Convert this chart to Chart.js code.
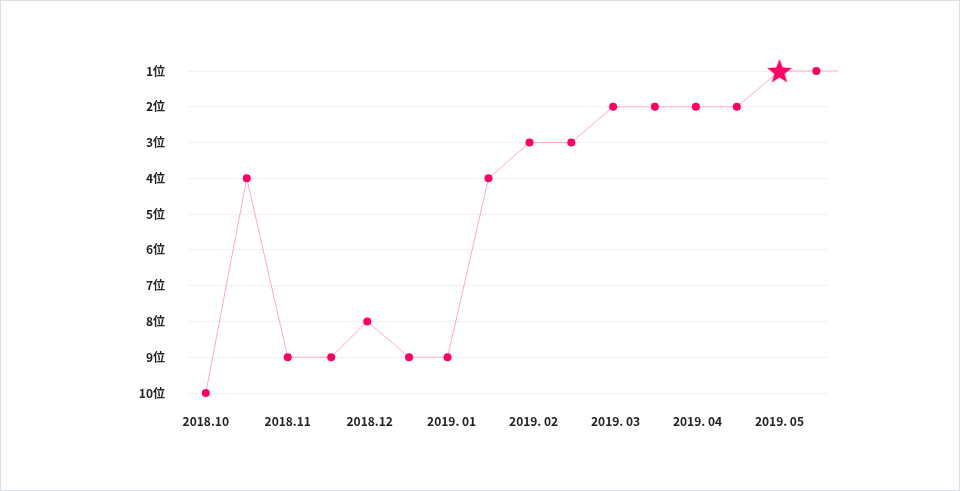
<!DOCTYPE html>
<html>
<head>
<meta charset="utf-8">
<script src="https://cdn.jsdelivr.net/npm/chart.js@4.4.0/dist/chart.umd.min.js"></script>
<style>
  html, body { margin: 0; padding: 0; background: #ffffff; }
  #wrap { position: relative; width: 960px; height: 491px; }
  #frame { position: absolute; left: 0; top: 0; width: 960px; height: 491px; box-sizing: border-box; border: 1px solid #d9dde6; pointer-events: none; }
</style>
</head>
<body>
<div id="wrap">
  <canvas id="c" width="960" height="491"></canvas>
  <div id="frame"></div>
</div>
<script>
// Month tick labels (x position = month index)
const tickLabels = ['2018.10', '2018.11', '2018.12', '2019. 01', '2019. 02', '2019. 03', '2019. 04', '2019. 05'];
const xPositions = [0, 0.5, 1, 1.53, 1.97, 2.48, 2.95, 3.45, 3.95, 4.46, 4.97, 5.48, 5.98, 6.48, 7, 7.45, 7.72];
// Ranking at each observation (the last entry is the line running on past the final dot)
const ranks = [10, 4, 9, 9, 8, 9, 9, 4, 3, 3, 2, 2, 2, 2, 1, 1, 1];
// Index of the highlighted (star) observation
const starIndex = 14;
const lastVisibleIndex = 15;

const pink = '#ff0066';
const linePink = '#ffa8c6';
const fontFamily = '"Noto Sans CJK JP", "Noto Sans", sans-serif';

// filled five-point star image for the highlighted point
function makeStar(R) {
  const size = Math.ceil(R * 2) + 2;
  const cv = document.createElement('canvas');
  cv.width = size; cv.height = size;
  const ctx = cv.getContext('2d');
  const cx = size / 2, cy = size / 2 + 1;
  const r = R * 0.42;
  ctx.beginPath();
  for (let i = 0; i < 10; i++) {
    const ang = -Math.PI / 2 + i * Math.PI / 5;
    const rad = i % 2 === 0 ? R : r;
    const px = cx + rad * Math.cos(ang), py = cy + rad * Math.sin(ang);
    if (i === 0) ctx.moveTo(px, py); else ctx.lineTo(px, py);
  }
  ctx.closePath();
  ctx.fillStyle = pink;
  ctx.fill();
  return cv;
}
const starImg = makeStar(13);

const points = xPositions.map((x, i) => ({ x: x, y: ranks[i] }));
const radii = ranks.map((_, i) => (i > lastVisibleIndex ? 0 : 4));
const styles = ranks.map((_, i) => (i === starIndex ? starImg : 'circle'));

new Chart(document.getElementById('c'), {
  type: 'line',
  data: {
    datasets: [{
      data: points,
      borderColor: linePink,
      borderWidth: 1,
      backgroundColor: pink,
      pointBackgroundColor: pink,
      pointBorderColor: pink,
      pointBorderWidth: 0,
      pointRadius: radii,
      pointStyle: styles,
      tension: 0,
      clip: false
    }]
  },
  options: {
    responsive: false,
    animation: false,
    events: [],
    layout: { padding: { left: 130, right: 133, top: 71, bottom: 58 } },
    plugins: { legend: { display: false }, tooltip: { enabled: false } },
    scales: {
      x: {
        type: 'linear',
        min: -0.217,
        max: 7.58,
        afterFit: (s) => { s.height = 40; },
        afterBuildTicks: (s) => { s.ticks = tickLabels.map((_, i) => ({ value: i })); },
        grid: { display: false },
        border: { display: false },
        ticks: {
          autoSkip: false,
          maxRotation: 0,
          padding: 13,
          color: '#222222',
          font: { family: fontFamily, size: 12, weight: 'bold' },
          callback: (v) => tickLabels[v]
        }
      },
      y: {
        type: 'linear',
        reverse: true,
        min: 1,
        max: 10,
        afterFit: (s) => { s.width = 58; },
        grid: { color: '#f0f0f2', lineWidth: 1, drawTicks: false },
        border: { display: false },
        ticks: {
          stepSize: 1,
          padding: 23,
          color: '#222222',
          font: { family: fontFamily, size: 12, weight: 'bold' },
          callback: (v) => v + '位'
        }
      }
    }
  }
});
</script>
</body>
</html>
